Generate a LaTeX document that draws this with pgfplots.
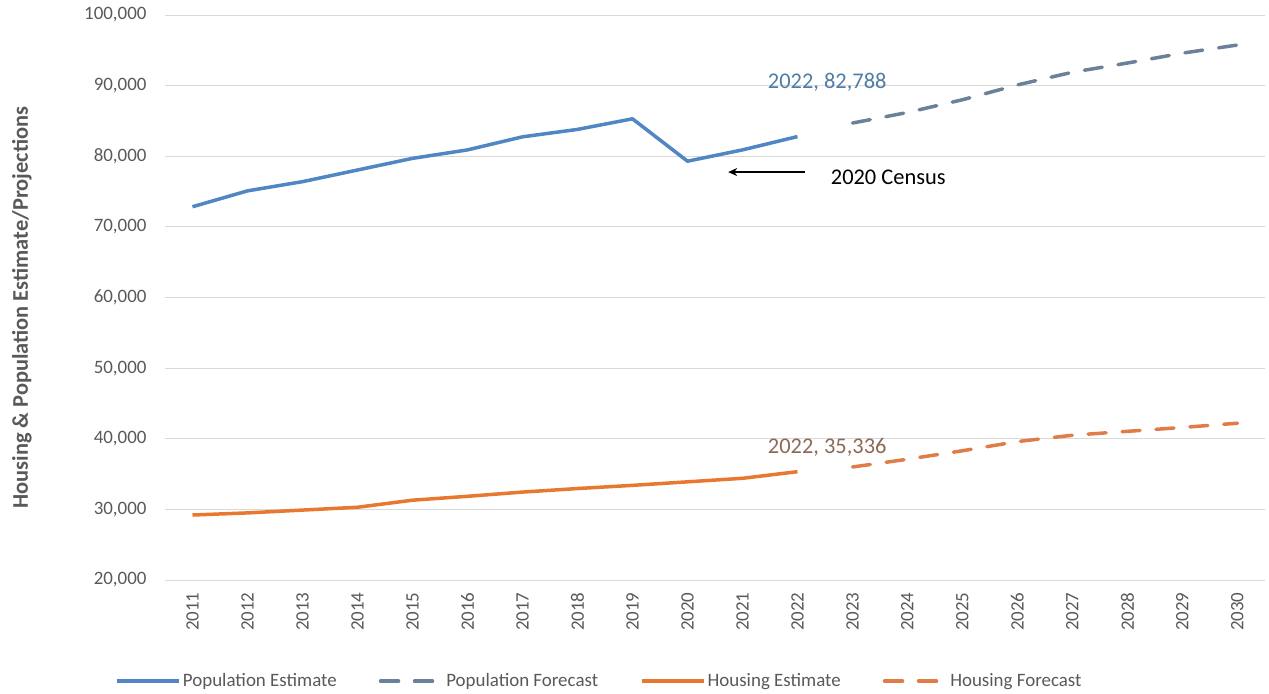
\documentclass[border=0pt]{standalone}
\usepackage{pgfplots}
\pgfplotsset{compat=1.18}
\usetikzlibrary{arrows.meta}
\usepackage{fontspec}
\setmainfont{Carlito}
\definecolor{popc}{HTML}{4F86C3}
\definecolor{popf}{HTML}{6B8199}
\definecolor{housc}{HTML}{E8782F}
\definecolor{housf}{HTML}{DF7C47}
\definecolor{tickc}{HTML}{595959}
\definecolor{gridc}{HTML}{D9D9D9}
\definecolor{popann}{HTML}{4F7CA5}
\definecolor{housann}{HTML}{8A6A55}
\pgfplotstableread{
year pop
2011 72850
2012 75100
2013 76400
2014 78050
2015 79700
2016 80900
2017 82750
2018 83800
2019 85300
2020 79300
2021 80900
2022 82788
}\popest
\pgfplotstableread{
year pop
2023 84700
2024 86200
2025 88000
2026 90100
2027 91900
2028 93200
2029 94600
2030 95750
}\popfc
\pgfplotstableread{
year hou
2011 29200
2012 29500
2013 29900
2014 30300
2015 31300
2016 31850
2017 32450
2018 32950
2019 33400
2020 33900
2021 34400
2022 35336
}\housest
\pgfplotstableread{
year hou
2023 36000
2024 37100
2025 38300
2026 39600
2027 40500
2028 41050
2029 41600
2030 42200
}\housfc
\begin{document}
\begin{tikzpicture}
\path[use as bounding box] (-165bp,-114bp) rectangle (1104bp,580bp);
\begin{axis}[at={(0bp,0bp)}, anchor=south west, scale only axis,
  width=1100bp, height=565bp,
  xmin=2010.5, xmax=2030.5, ymin=20000, ymax=100000,
  xtick={2011,2012,...,2030}, ytick={20000,30000,...,100000},
  scaled y ticks=false,
  ymajorgrids, grid style={draw=gridc, line width=0.9bp},
  axis line style={draw=none}, major tick style={draw=none},
  xticklabel shift=9bp,
  xticklabel style={rotate=90, anchor=east, /pgf/number format/fixed, /pgf/number format/1000 sep={}, /pgf/number format/assume math mode=true, font=\fontsize{19}{19}\selectfont, text=tickc},
  yticklabel style={xshift=-15bp, /pgf/number format/fixed, /pgf/number format/1000 sep={,}, /pgf/number format/assume math mode=true, font=\fontsize{19}{19}\selectfont, text=tickc},
  ylabel={Housing \& Population Estimate/Projections},
  every axis y label/.style={at={(axis description cs:-0.130,0.482)}, rotate=90, anchor=center, font=\bfseries\fontsize{22.5}{22.5}\selectfont, text=tickc},
  legend style={at={(axis description cs:0.395,-0.179)}, anchor=center, draw=none, fill=none, legend columns=4, font=\fontsize{19}{19}\selectfont, text=tickc,
    /tikz/every even column/.append style={column sep=40bp}},
  legend image code/.code={\draw[#1] (0bp,0bp) -- (62bp,0bp);},
]
\addplot[popc, line width=3.5bp, line join=round] table[x=year,y=pop] {\popest};
\addlegendentry{Population Estimate}
\addplot[popf, line width=3.5bp, dash pattern=on 18bp off 16bp, line cap=round] table[x=year,y=pop] {\popfc};
\addlegendentry{Population Forecast}
\addplot[housc, line width=3.5bp, line join=round] table[x=year,y=hou] {\housest};
\addlegendentry{Housing Estimate}
\addplot[housf, line width=3.5bp, dash pattern=on 18bp off 16bp, line cap=round] table[x=year,y=hou] {\housfc};
\addlegendentry{Housing Forecast}
\node[font=\fontsize{22.5}{22.5}\selectfont, text=popann] at (axis cs:2022.54,90510) {2022, 82,788};
\node[font=\fontsize{22.5}{22.5}\selectfont, text=housann] at (axis cs:2022.54,38810) {2022, 35,336};
\node[font=\fontsize{22.5}{22.5}\selectfont, text=black] at (axis cs:2023.65,77050) {2020 Census};
\draw[-{Stealth[length=9bp,width=8bp]}, line width=1.2bp] (axis cs:2022.14,77760) -- (axis cs:2020.74,77760);
\end{axis}
\end{tikzpicture}
\end{document}
